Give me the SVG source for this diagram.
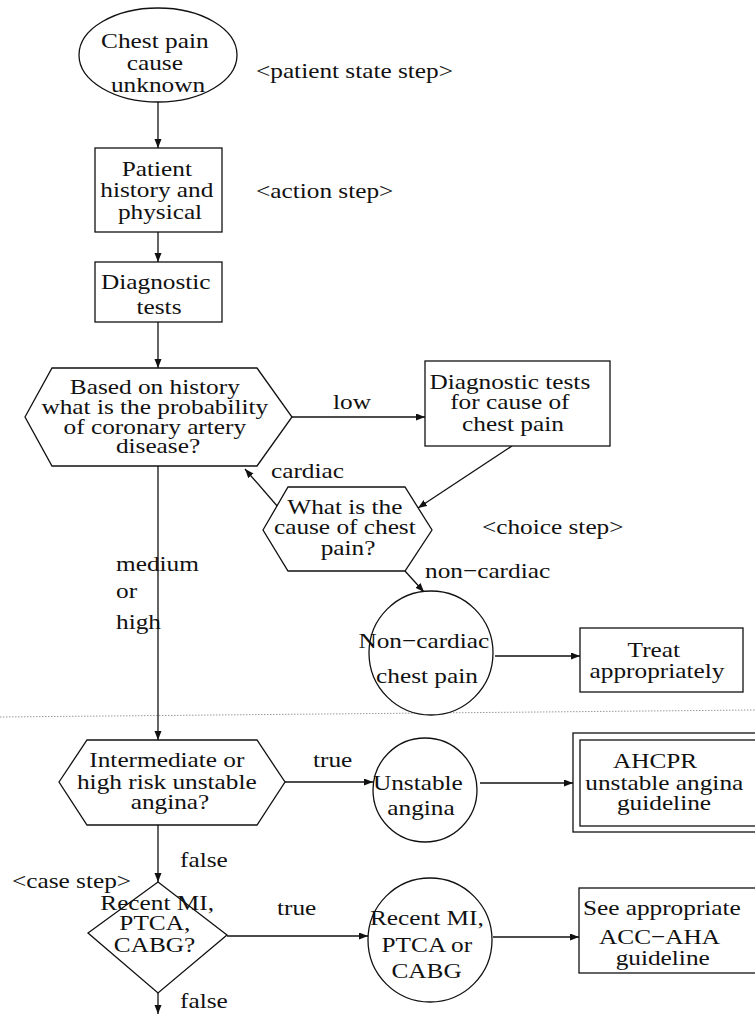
<svg xmlns="http://www.w3.org/2000/svg" width="755" height="1018" viewBox="0 0 755 1018">
  <style>
    .shape { fill: #fff; stroke: #111; stroke-width: 1.3; }
    .edge { fill: none; stroke: #111; stroke-width: 1.3; marker-end: url(#arrow); }
    .t { font-family: "Liberation Serif", "Times New Roman", serif; font-size: 22px; fill: #111; }
    .c { text-anchor: middle; }
    .rule { stroke: #999; stroke-width: 1; stroke-dasharray: 1.5 1.5; fill: none; }
  </style>
  <defs>
    <marker id="arrow" markerUnits="userSpaceOnUse" markerWidth="10" markerHeight="8" refX="9" refY="3.5" orient="auto">
      <path d="M0,0 L9,3.5 L0,7 z" fill="#111"/>
    </marker>
  </defs>

  <rect width="755" height="1018" fill="#fff"/>

  <!-- page break rule -->
  <path class="rule" d="M0,717 L755,710"/>

  <!-- connectors -->
  <g id="connectors">
    <path class="edge" d="M158,102 L158,148"/>
    <path class="edge" d="M158,232 L158,262"/>
    <path class="edge" d="M158,322 L158,368"/>
    <path class="edge" d="M292,417 L425,417"/>
    <path class="edge" d="M512,446 L418,508"/>
    <path class="edge" d="M278,507 L245,469"/>
    <path class="edge" d="M405,571 L424,592"/>
    <path class="edge" d="M495,656 L580,656"/>
    <path class="edge" d="M158,466 L158,740"/>
    <path class="edge" d="M285,782 L373,782"/>
    <path class="edge" d="M480,783 L573,783"/>
    <path class="edge" d="M158,825 L158,882"/>
    <path class="edge" d="M227,936 L368,936"/>
    <path class="edge" d="M493,937 L579,937"/>
    <path class="edge" d="M158,993 L158,1014"/>

    <g class="t">
      <text transform="translate(333 0) scale(1.15 1)" x="0" y="409">low</text>
      <text transform="translate(271 0) scale(1.15 1)" x="0" y="478">cardiac</text>
      <text transform="translate(425 0) scale(1.15 1)" x="0" y="578">non−cardiac</text>
      <text transform="translate(116 0) scale(1.15 1)" x="0" y="571">medium</text>
      <text transform="translate(116 0) scale(1.15 1)" x="0" y="598">or</text>
      <text transform="translate(116 0) scale(1.15 1)" x="0" y="629">high</text>
      <text transform="translate(313 0) scale(1.15 1)" x="0" y="767">true</text>
      <text transform="translate(180 0) scale(1.15 1)" x="0" y="867">false</text>
      <text transform="translate(277 0) scale(1.15 1)" x="0" y="915">true</text>
      <text transform="translate(180 0) scale(1.15 1)" x="0" y="1008">false</text>
    </g>
  </g>

  <!-- step-kind annotations -->
  <g id="annotations" class="t">
    <text transform="translate(256 0) scale(1.15 1)" x="0" y="78">&lt;patient state step&gt;</text>
    <text transform="translate(256 0) scale(1.15 1)" x="0" y="198">&lt;action step&gt;</text>
    <text transform="translate(482 0) scale(1.15 1)" x="0" y="534">&lt;choice step&gt;</text>
    <text transform="translate(12 0) scale(1.15 1)" x="0" y="888">&lt;case step&gt;</text>
  </g>

  <g id="chest-pain-unknown">
    <ellipse class="shape" cx="158" cy="55" rx="79" ry="47"/>
    <text class="t c" transform="translate(158 0) scale(1.15 1)">
      <tspan x="0" y="48">Chest pain</tspan>
      <tspan x="0" y="70">cause</tspan>
      <tspan x="0" y="92">unknown</tspan>
    </text>
  </g>

  <g id="history-physical">
    <rect class="shape" x="95" y="148" width="127" height="84"/>
    <text class="t c" transform="translate(160 0) scale(1.15 1)">
      <tspan x="0" y="176">Patient</tspan>
      <tspan x="0" y="197">history and</tspan>
      <tspan x="0" y="219">physical</tspan>
    </text>
  </g>

  <g id="diagnostic-tests">
    <rect class="shape" x="95" y="262" width="127" height="60"/>
    <text class="t c" transform="translate(159 0) scale(1.15 1)">
      <tspan x="0" y="289">Diagnostic</tspan>
      <tspan x="0" y="314">tests</tspan>
    </text>
  </g>

  <g id="cad-probability">
    <polygon class="shape" points="25,417 52,368 257,368 292,417 257,466 52,466"/>
    <text class="t c" transform="translate(158 0) scale(1.15 1)">
      <tspan x="0" y="394">Based on history</tspan>
      <tspan x="0" y="414">what is the probability</tspan>
      <tspan x="0" y="434">of coronary artery</tspan>
      <tspan x="0" y="453">disease?</tspan>
    </text>
  </g>

  <g id="tests-for-cause">
    <rect class="shape" x="425" y="361" width="185" height="85"/>
    <text class="t c" transform="translate(513 0) scale(1.15 1)">
      <tspan x="0" y="389">Diagnostic tests</tspan>
      <tspan x="0" y="409">for cause of</tspan>
      <tspan x="0" y="431">chest pain</tspan>
    </text>
  </g>

  <g id="cause-choice">
    <polygon class="shape" points="263,530 288,487 405,487 432,530 405,571 288,571"/>
    <text class="t c" transform="translate(348 0) scale(1.15 1)">
      <tspan x="0" y="514">What is the</tspan>
      <tspan x="0" y="534">cause of chest</tspan>
      <tspan x="0" y="555">pain?</tspan>
    </text>
  </g>

  <g id="non-cardiac">
    <circle class="shape" cx="431" cy="653" r="62"/>
    <text class="t c" transform="translate(427 0) scale(1.15 1)">
      <tspan x="0" y="648">Non−cardiac</tspan>
      <tspan x="0" y="683">chest pain</tspan>
    </text>
  </g>

  <g id="treat">
    <rect class="shape" x="580" y="628" width="163" height="64"/>
    <text class="t c" transform="translate(657 0) scale(1.15 1)">
      <tspan x="0" y="657">Treat</tspan>
      <tspan x="0" y="678">appropriately</tspan>
    </text>
  </g>

  <g id="unstable-risk">
    <polygon class="shape" points="59,782 87,740 257,740 285,782 257,825 87,825"/>
    <text class="t c" transform="translate(170 0) scale(1.15 1)">
      <tspan x="0" y="767">Intermediate or</tspan>
      <tspan x="0" y="789">high risk unstable</tspan>
      <tspan x="0" y="809">angina?</tspan>
    </text>
  </g>

  <g id="unstable-angina">
    <circle class="shape" cx="425" cy="790" r="52"/>
    <text class="t c" transform="translate(421 0) scale(1.15 1)">
      <tspan x="0" y="790">Unstable</tspan>
      <tspan x="0" y="815">angina</tspan>
    </text>
  </g>

  <g id="ahcpr-guideline">
    <rect class="shape" x="573" y="733" width="190" height="99"/>
    <rect class="shape" x="580" y="740" width="190" height="86"/>
    <text class="t c" transform="translate(664 0) scale(1.15 1)">
      <tspan x="-5" y="768">AHCPR</tspan>
      <tspan x="3" y="790">unstable angina</tspan>
      <tspan x="0" y="810">guideline</tspan>
    </text>
  </g>

  <g id="recent-case">
    <polygon class="shape" points="158,882 227,935 158,993 88,933"/>
    <text class="t c" transform="translate(158 0) scale(1.15 1)">
      <tspan x="2" y="910">Recent MI,</tspan>
      <tspan x="0" y="930">PTCA,</tspan>
      <tspan x="-3" y="952">CABG?</tspan>
    </text>
  </g>

  <g id="recent-state">
    <circle class="shape" cx="430" cy="940" r="62"/>
    <text class="t c" transform="translate(430 0) scale(1.15 1)">
      <tspan x="0" y="925">Recent MI,</tspan>
      <tspan x="0" y="952">PTCA or</tspan>
      <tspan x="-3" y="978">CABG</tspan>
    </text>
  </g>

  <g id="acc-aha-guideline">
    <rect class="shape" x="579" y="888" width="190" height="85"/>
    <text class="t c" transform="translate(665 0) scale(1.15 1)">
      <tspan x="0" y="915">See appropriate</tspan>
      <tspan x="-2" y="944">ACC−AHA</tspan>
      <tspan x="-2" y="965">guideline</tspan>
    </text>
  </g>
</svg>
